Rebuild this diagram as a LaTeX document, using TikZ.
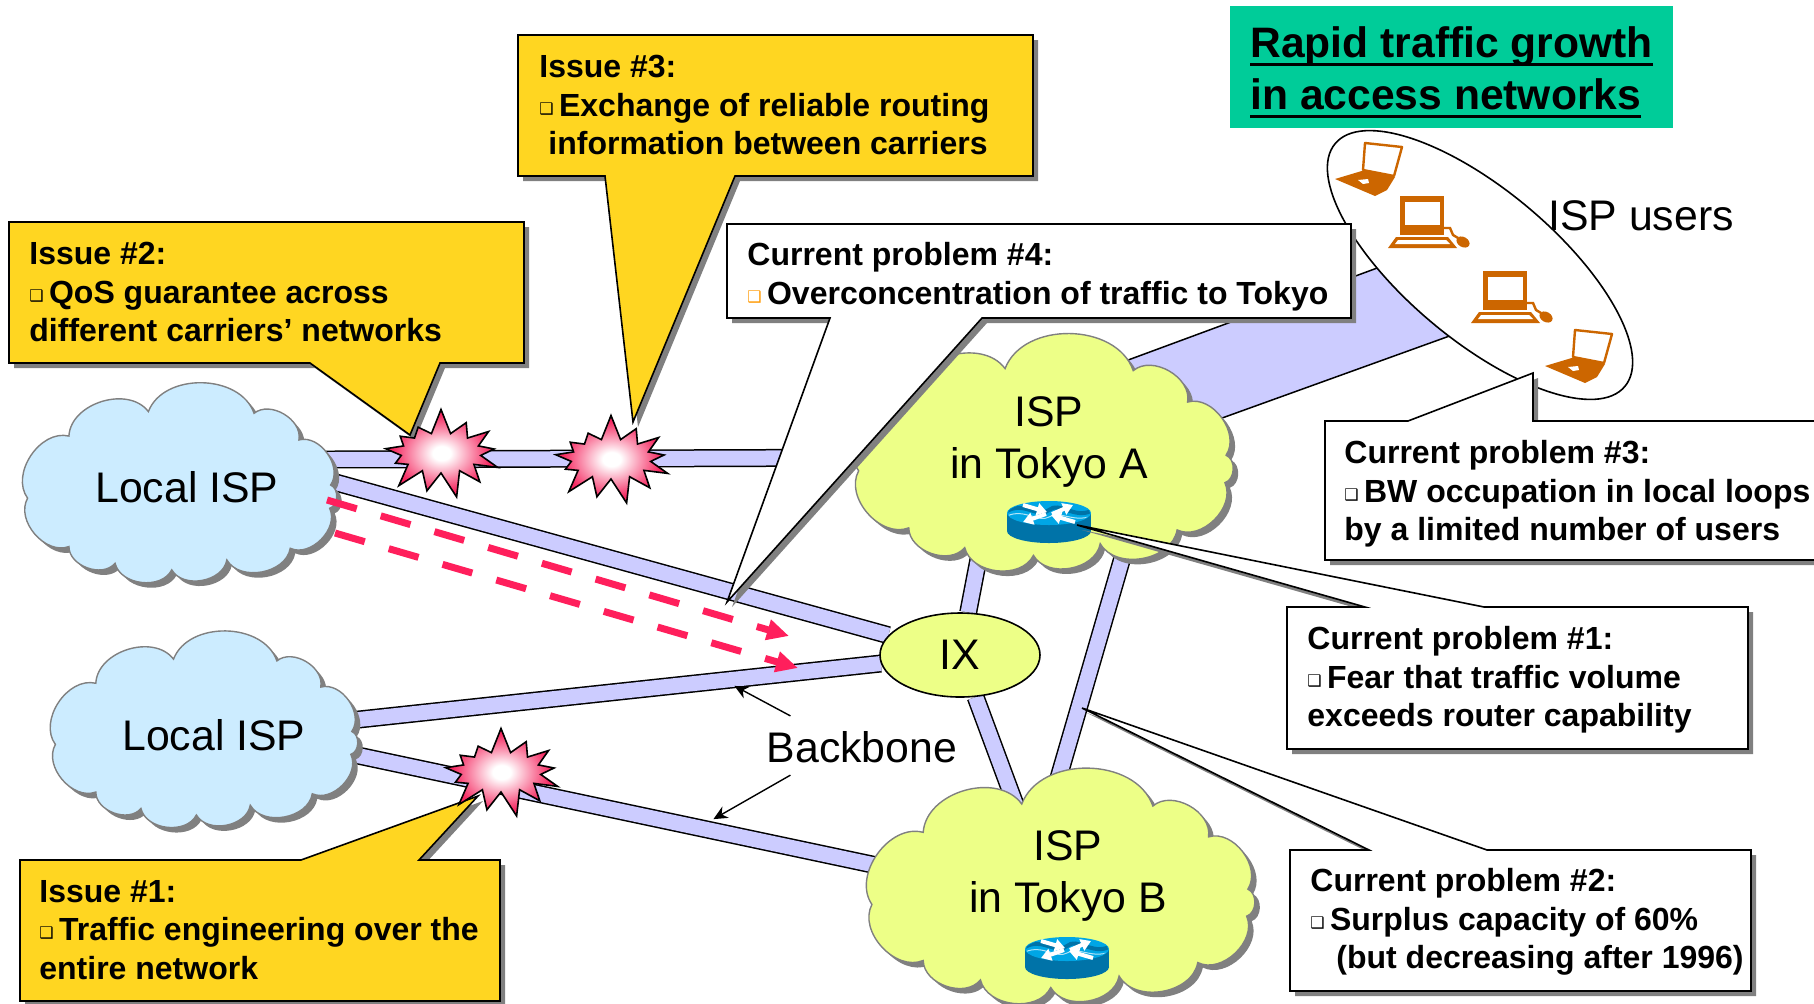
\documentclass[tikz,border=0pt]{standalone}
\usepackage{fontspec}
\setmainfont{Liberation Sans}
\newfontfamily\symfont{DejaVu Sans}
\usepackage{color}
\usetikzlibrary{arrows.meta, shadows, shapes.geometric, shapes.symbols}
\definecolor{shadowgray}{rgb}{0.5, 0.5, 0.5}
\definecolor{bandblue}{rgb}{0.8, 0.8, 1}
\definecolor{localblue}{rgb}{0.8, 0.925, 1}
\definecolor{tokyoyellow}{rgb}{0.93, 1, 0.53}
\definecolor{issueyellow}{rgb}{1, 0.84, 0.13}
\definecolor{titlegreen}{rgb}{0, 0.8, 0.6}
\definecolor{pcorange}{rgb}{0.8, 0.4, 0}
\definecolor{bulletorange}{rgb}{1, 0.6, 0}
\definecolor{trafficred}{rgb}{1, 0.12, 0.36}
\definecolor{burstred}{rgb}{0.96, 0.16, 0.38}
\definecolor{routerdark}{rgb}{0, 0.45, 0.66}
\definecolor{routerlight}{rgb}{0, 0.65, 0.9}
\pgfdeclarelayer{bands}
\pgfsetlayers{bands,main}
\pgfdeclareradialshading{burstglow}{\pgfpoint{0bp}{0bp}}{color(0bp)=(white); color(4bp)=(white); color(22bp)=(burstred); color(50bp)=(burstred)}
\newcommand{\sqbul}{{\symfont\fontsize{8}{8}\selectfont\raisebox{1pt}{❑}}}
\newcommand{\orbul}{{\color{bulletorange}\sqbul}}
\newcommand{\titleline}[1]{\setbox0=\hbox{#1}\rlap{\rule[-4.5pt]{\wd0}{1.4pt}}\box0}
\newcommand{\cloudoutline}{(15.9,26.8) to[lobe] (40.7,14.2) to[lobe] (73.7,15.1) to[lobe] (87.7,28.8) to[lobe] (97.6,52) to[lobe] (97.3,64) to[lobe] (85,84.6) to[lobe] (65.2,90.6) to[lobe] (48,95.7) to[lobe] (30.3,92.3) to[lobe] (15.9,83.7) to[lobe] (3,58.8) to[lobe] cycle}
\newcommand{\ispcloud}[5]{
	\begin{scope}[shift={(#1,#2)}, x=#3*0.005pt, y=#4*-0.005pt]
		\fill[shadowgray, xshift=2.5pt, yshift=-2.5pt] \cloudoutline;
		\draw[shadowgray, fill=#5, line width=0.7pt] \cloudoutline;
	\end{scope}
}
\tikzset{
	lobe/.style={bend left=70, looseness=1.02},
	band/.style={draw=black, double=bandblue, double distance=7.5pt, line width=0.75pt},
	traffic/.style={trafficred, line width=3.5pt, dash pattern=on 15.5pt off 12.5pt, -{Triangle[length=11pt, width=10pt]}},
	pointer/.style={line width=0.7pt, -{Stealth[length=7pt, width=6.5pt]}},
	plain/.style={font=\fontsize{21.4}{26}\selectfont, align=center, inner sep=0pt},
	calltext/.style={font=\fontsize{16}{19.2}\selectfont\bfseries, align=left, anchor=north west, inner sep=0pt},
	callbox/.style={draw=black, line width=0.8pt, line join=miter, drop shadow={shadow xshift=2.5pt, shadow yshift=-2.5pt, fill=shadowgray, opacity=1}},
	issue/.style={callbox, fill=issueyellow},
	problem/.style={callbox, fill=white},
	burst/.style={starburst, starburst points=13, starburst point height=13pt, random starburst=7, draw=black, line width=0.8pt, shading=burstglow, minimum width=66pt, minimum height=46pt, inner sep=0pt},
	laptop/.pic={
		\draw[pcorange, line width=1.2pt, line join=round] (30,0) -- (67,4) -- (59,33) -- (28,27) -- cycle;
		\fill[pcorange] (0,36) -- (30,27) -- (60,34) -- (52,47) -- (40,53) -- cycle;
		\fill[white] (23,37) -- (33,36) -- (34,40) -- (28,41) -- cycle;
	},
	desktop/.pic={
		\fill[pcorange] (12,0) rectangle (56,39);
		\fill[white] (17,6) rectangle (52,29);
		\fill[pcorange] (8,41) -- (60,41) -- (69,52) -- (0,52) -- cycle;
		\fill[white] (10,44) -- (58,44) -- (62,48) -- (7,48) -- cycle;
		\draw[pcorange, line width=1.2pt] (56,32) -- (62,32) -- (65,39) -- (70,42);
		\fill[pcorange, rotate around={-30:(75,46)}] (75,46) ellipse [x radius=7, y radius=5];
	},
	router/.pic={
		\fill[routerdark] (0,18) ellipse [x radius=42, y radius=12];
		\fill[routerdark] (-42,0) rectangle (42,18);
		\fill[routerlight] (0,0) ellipse [x radius=42, y radius=12];
		\begin{scope}
			\clip (0,0) ellipse [x radius=41, y radius=11];
			\draw[routerdark, line width=2pt] (-42,-2) .. controls (-25,-12) and (-10,6) .. (0,-3) .. controls (10,-12) and (25,6) .. (42,-2);
			\draw[white!70!routerlight, line width=0.5pt] (-42,3) .. controls (-25,-5) and (-10,10) .. (0,4) .. controls (10,-3) and (25,10) .. (42,3);
		\end{scope}
		\draw[white, line width=2pt, -{Triangle[length=5pt, width=6pt]}] (3,1) -- (24,-8);
		\draw[white, line width=2pt, -{Triangle[length=5pt, width=6pt]}] (-3,1) -- (-26,9);
		\draw[white, line width=2pt, -{Triangle[length=5pt, width=6pt]}] (-26,-8) -- (-2,-1);
		\draw[white, line width=2pt, -{Triangle[length=5pt, width=6pt]}] (26,9) -- (2,2);
	}
}
\begin{document}
\begin{tikzpicture}[x=0.5pt, y=-0.5pt]
	\useasboundingbox (0,0) rectangle (1814,1003);
	\clip (0,0) rectangle (1814,1003);

	\ispcloud{18}{384}{320}{194}{localblue}
	\ispcloud{46}{632}{313}{191}{localblue}
	\ispcloud{847}{336}{388}{229}{tokyoyellow}
	\ispcloud{860}{772}{397}{225}{tokyoyellow}

	\node[plain] (local1) at (187,487) {Local ISP};
	\node[plain] (local2) at (214,735) {Local ISP};
	\node[plain] (tokyoA) at (1049,442) {ISP\\in Tokyo A};
	\node[plain] (tokyoB) at (1068,876) {ISP\\in Tokyo B};
	\node[ellipse, draw=black, line width=0.8pt, fill=tokyoyellow, minimum width=80pt, minimum height=42pt, inner sep=0pt, font=\fontsize{21.4}{26}\selectfont] (ix) at (960,655) {IX};
	\node[ellipse, draw=black, line width=0.8pt, fill=white, minimum width=189pt, minimum height=75pt, inner sep=0pt, rotate=-40] (users) at (1480,265) {};
	\node[plain] (userlabel) at (1641,216) {ISP users};
	\node[plain] (backbone) at (862,747) {Backbone};

	\foreach \x/\y in {1049/513, 1067/949}{
		\pic at (\x,\y) {router};
	}
	\foreach \x/\y in {1335/143, 1545/330}{
		\pic at (\x,\y) {laptop};
	}
	\foreach \x/\y in {1388/196, 1471/271}{
		\pic at (\x,\y) {desktop};
	}

	\begin{pgfonlayer}{bands}
		\draw[band] ([yshift=13.5pt]local1.center) -- ([yshift=-7.5pt]tokyoA.center);
		\draw[band] ([yshift=22.8pt]local1.center) -- (ix);
		\draw[band] (local2) -- (ix);
		\draw[band] ([yshift=5pt]local2.center) -- ([yshift=-15pt]tokyoB.center);
		\draw[band] (ix) -- ([xshift=-24pt]tokyoA.center);
		\draw[band] (ix) -- ([xshift=-13pt]tokyoB.center);
		\draw[band] ([xshift=53.5pt]tokyoA.center) -- ([xshift=-19pt]tokyoB.center);
		\fill[bandblue] ([xshift=35.5pt, yshift=39.5pt]tokyoA.center) -- ([yshift=17.5pt]users.center) -- ([yshift=-30pt]users.center) -- ([xshift=50.5pt, yshift=-1pt]tokyoA.center) -- cycle;
		\draw[line width=0.75pt] ([xshift=35.5pt, yshift=39.5pt]tokyoA.center) -- ([yshift=17.5pt]users.center);
		\draw[line width=0.75pt] ([xshift=50.5pt, yshift=-1pt]tokyoA.center) -- ([yshift=-30pt]users.center);
	\end{pgfonlayer}

	\draw[traffic] ([xshift=70pt, yshift=-6.5pt]local1.center) -- ([xshift=-85.5pt, yshift=9.5pt]ix.center);
	\draw[traffic] ([xshift=74pt, yshift=-23pt]local1.center) -- ([xshift=-81pt, yshift=-6.5pt]ix.center);
	\draw[pointer] ([xshift=12pt, yshift=7.5pt]backbone.north west) -- ++(-56,-30);
	\draw[pointer] ([xshift=12pt, yshift=-6pt]backbone.south west) -- ++(-77,44);

	\draw[issue] (518,35) -- (1033,35) -- (1033,176) -- (735,176) -- (633,422) -- (605,176) -- (518,176) -- cycle;
	\draw[issue] (9,222) -- (524,222) -- (524,363) -- (440,363) -- (410,435) -- (310,363) -- (9,363) -- cycle;
	\draw[issue] (20,860) -- (301,860) -- (478,796) -- (419,860) -- (500,860) -- (500,1001) -- (20,1001) -- cycle;
	\draw[problem] (727,224) -- (1351,224) -- (1351,318) -- (982,318) -- (727,602) -- (830,318) -- (727,318) -- cycle;
	\draw[problem] (1325,421) -- (1408,421) -- (1533,373) -- (1533,421) -- (1830,421) -- (1830,560) -- (1325,560) -- cycle;
	\draw[problem] (1287,607) -- (1365,607) -- (1077,525) -- (1484,607) -- (1748,607) -- (1748,749) -- (1287,749) -- cycle;
	\draw[problem] (1290,850) -- (1369,850) -- (1082,708) -- (1487,850) -- (1751,850) -- (1751,991) -- (1290,991) -- cycle;

	\foreach \name/\x/\y in {burstA/441/453, burstB/611/459, burstC/501/772}{
		\node[burst] (\name) at (\x,\y) {};
	}

	\node[calltext] (issue3) at (539,55) {Issue \#3:\\\sqbul\,Exchange of reliable routing\\\hspace*{4.5pt}information between carriers};
	\node[calltext] (issue2) at (29,242) {Issue \#2:\\\sqbul\,QoS guarantee across\\different carriers’ networks};
	\node[calltext] (issue1) at (39,880) {Issue \#1:\\\sqbul\,Traffic engineering over the\\entire network};
	\node[calltext] (problem4) at (747,242) {Current problem \#4:\\\orbul\,Overconcentration of traffic to Tokyo};
	\node[calltext] (problem3) at (1344,440) {Current problem \#3:\\\sqbul\,BW occupation in local loops\\by a limited number of users};
	\node[calltext] (problem1) at (1307,626) {Current problem \#1:\\\sqbul\,Fear that traffic volume\\exceeds router capability};
	\node[calltext] (problem2) at (1310,868) {Current problem \#2:\\\sqbul\,Surplus capacity of 60\%\\\hspace*{13pt}(but decreasing after 1996)};

	\fill[titlegreen] (1230,6) rectangle (1673,128);
	\node[anchor=north west, inner sep=0pt, align=left, font=\fontsize{21.3}{26}\selectfont\bfseries] (title) at (1250,26) {\titleline{Rapid traffic growth}\\\titleline{in access networks}};
\end{tikzpicture}
\end{document}
